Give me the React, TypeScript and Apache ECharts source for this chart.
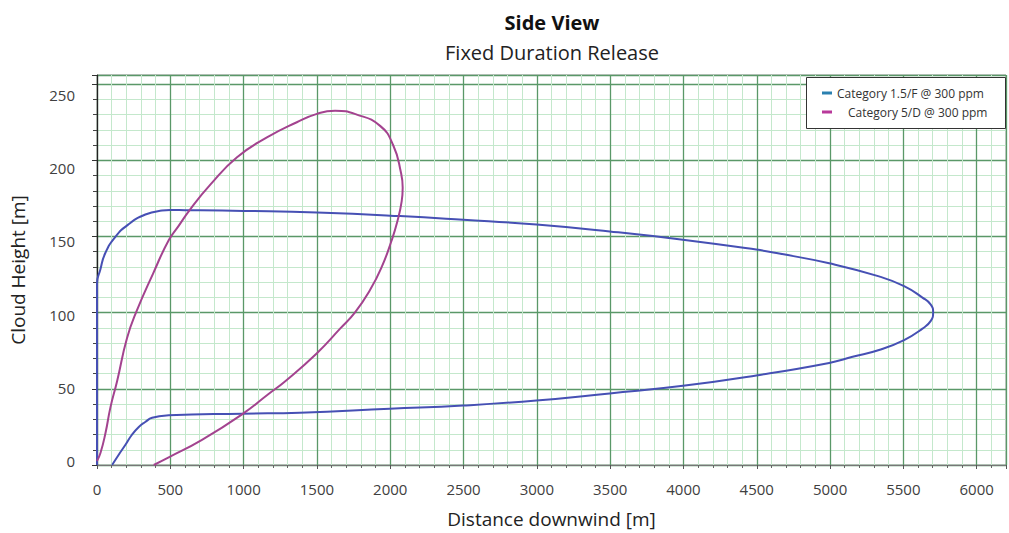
import React, { useEffect, useRef } from 'react';
import * as echarts from 'echarts';

const titleText = 'Side View';
const subtitleText = 'Fixed Duration Release';
const xAxisName = 'Distance downwind [m]';
const yAxisName = 'Cloud Height [m]';
const seriesNames = ['Category 1.5/F @ 300 ppm', 'Category 5/D @ 300 ppm'];

// Category 1.5/F cloud outline [distance m, height m]
const stableF: [number, number][] = [
  [103, 0], [147, 6.6], [194, 13.3], [237, 19.7], [285, 25], [329, 28.2], [376, 31],
  [489, 32.6], [989, 33.7], [1383, 34.3], [1997, 36.9], [2497, 39], [2997, 42.3],
  [3497, 47], [3997, 52], [4497, 58.8], [4994, 67], [5154, 71],
  [5334, 75.5], [5505, 82], [5630, 89.5], [5687, 94.6], [5703, 100.2], [5687, 105.3],
  [5630, 109.9], [5505, 117.4], [5334, 123.8], [4994, 132.4], [4653, 138.8], [4496, 141.4],
  [3996, 147.9], [3497, 153.3], [2998, 157.8], [2498, 161], [2067, 163.4], [1500, 165.7],
  [1000, 166.8], [706, 167.2], [602, 167.3], [500, 167.4], [443, 167], [330, 164.4],
  [215, 158], [124, 149.6], [56, 139], [22, 128], [0, 119.3], [0, 0],
];

// Category 5/D cloud outline [distance m, height m]
const neutralD: [number, number][] = [
  [387, 0], [489, 5], [716, 16.5], [996, 33.7], [1170, 46.6], [1284, 55], [1500, 73.4],
  [1658, 89.5], [1760, 100.2], [1863, 115], [1942, 130], [2010, 147.5], [2049, 160],
  [2078, 173], [2085, 182], [2072, 192.5], [2021, 209.7], [1931, 222.6], [1772, 230],
  [1624, 232.5], [1500, 230.5], [1363, 225], [1159, 215], [955, 202], [773, 184],
  [637, 168], [557, 157], [489, 147.5], [384, 126], [270, 101], [204, 83],
  [137, 55], [92, 38], [58, 21], [24, 8], [0, 2.6],
];

const lineColors = ['#4650b4', '#a3438f'];
const legendColors = ['#2a80b0', '#b8399a'];

const FONT = 'Open Sans';

export default function App() {
  const ref = useRef<HTMLDivElement>(null);
  useEffect(() => {
    if (!ref.current) return;
    const chart = echarts.init(ref.current, null, { renderer: 'svg' });
    const majorColor = '#5a9868';
    const minorColor = '#c4e8cc';
    chart.setOption({
      animation: false,
      backgroundColor: '#ffffff',
      textStyle: { fontFamily: FONT },
      title: [
        {
          text: titleText, left: 552, top: 12, padding: 0, textAlign: 'center',
          textStyle: { fontFamily: FONT, fontSize: 20, fontWeight: 'bold', color: '#111' },
        },
        {
          text: subtitleText, left: 552, top: 42, padding: 0, textAlign: 'center',
          textStyle: { fontFamily: FONT, fontSize: 20, fontWeight: 'normal', color: '#222' },
        },
      ],
      graphic: [
        {
          type: 'rect', z: 50, shape: { x: 806.5, y: 77.5, width: 199, height: 51 },
          style: { fill: '#ffffff', stroke: '#333', lineWidth: 1 },
        },
      ],
      legend: [
        {
          data: [{ name: seriesNames[0], itemStyle: { color: legendColors[0] } }],
          left: 822, top: 87, padding: 0, z: 60, icon: 'rect', itemWidth: 10, itemHeight: 3,
          textStyle: { fontFamily: FONT, fontSize: 12, color: '#333' },
        },
        {
          data: [{ name: seriesNames[1], itemStyle: { color: legendColors[1] } }],
          left: 822, top: 106, padding: 0, z: 60, icon: 'rect', itemWidth: 10, itemHeight: 3,
          textStyle: { fontFamily: FONT, fontSize: 12, color: '#333', padding: [0, 0, 0, 11] },
        },
      ],
      grid: {
        left: 97, right: 2, top: 75, bottom: 61,
        show: true, borderColor: '#999', borderWidth: 1, backgroundColor: '#fff',
      },
      xAxis: {
        type: 'value', min: 0, max: 6200, interval: 500,
        name: xAxisName, nameLocation: 'middle', nameGap: 44,
        nameTextStyle: { fontFamily: FONT, fontSize: 19, color: '#222' },
        axisLine: { show: true, onZero: false, lineStyle: { color: '#777', width: 1 } },
        axisTick: { show: true, length: 4, lineStyle: { color: '#555' } },
        minorTick: { show: true, splitNumber: 5, length: 3, lineStyle: { color: '#666' } },
        axisLabel: {
          fontFamily: FONT, fontSize: 15, color: '#404040', margin: 16,
          formatter: (v: number) => (v % 500 === 0 ? String(v) : ''),
        },
        splitLine: { show: true, lineStyle: { color: majorColor, width: 1.3 } },
        minorSplitLine: { show: true, lineStyle: { color: minorColor, width: 1 } },
      },
      yAxis: [
        {
          type: 'value', min: 0, max: 256, interval: 50, position: 'left',
          name: yAxisName, nameLocation: 'middle', nameGap: 70, nameRotate: 90,
          nameTextStyle: { fontFamily: FONT, fontSize: 19, color: '#222' },
          axisLine: { show: true, onZero: false, lineStyle: { color: '#222', width: 1.2 } },
          axisTick: { show: true, length: 5, lineStyle: { color: '#333' } },
          minorTick: { show: true, splitNumber: 5, length: 4, lineStyle: { color: '#444' } },
          axisLabel: { show: false },
          splitLine: { show: true, lineStyle: { color: majorColor, width: 1.3 } },
          minorSplitLine: { show: true, lineStyle: { color: minorColor, width: 1 } },
        },
        {
          type: 'value', min: -2.48, max: 263.4, position: 'left', splitNumber: 5,
          axisLine: { show: false, onZero: false }, axisTick: { show: false },
          splitLine: { show: false },
          axisLabel: {
            fontFamily: FONT, fontSize: 15, color: '#404040', margin: 22,
            formatter: (v: number) => (Math.abs(v % 50) < 1e-6 ? String(v) : ''),
          },
        },
      ],
      series: [
        {
          name: seriesNames[0], type: 'line', data: stableF, showSymbol: false, smooth: 0.5,
          z: 3, lineStyle: { color: lineColors[0], width: 2 }, itemStyle: { color: lineColors[0] },
        },
        {
          name: seriesNames[1], type: 'line', data: neutralD, showSymbol: false, smooth: 0.5,
          z: 3, lineStyle: { color: lineColors[1], width: 2 }, itemStyle: { color: lineColors[1] },
        },
      ],
    });
    return () => chart.dispose();
  }, []);
  return (
    <div
      ref={ref}
      style={{ position: 'fixed', left: 0, top: 0, width: 1009, height: 533 }}
    />
  );
}
